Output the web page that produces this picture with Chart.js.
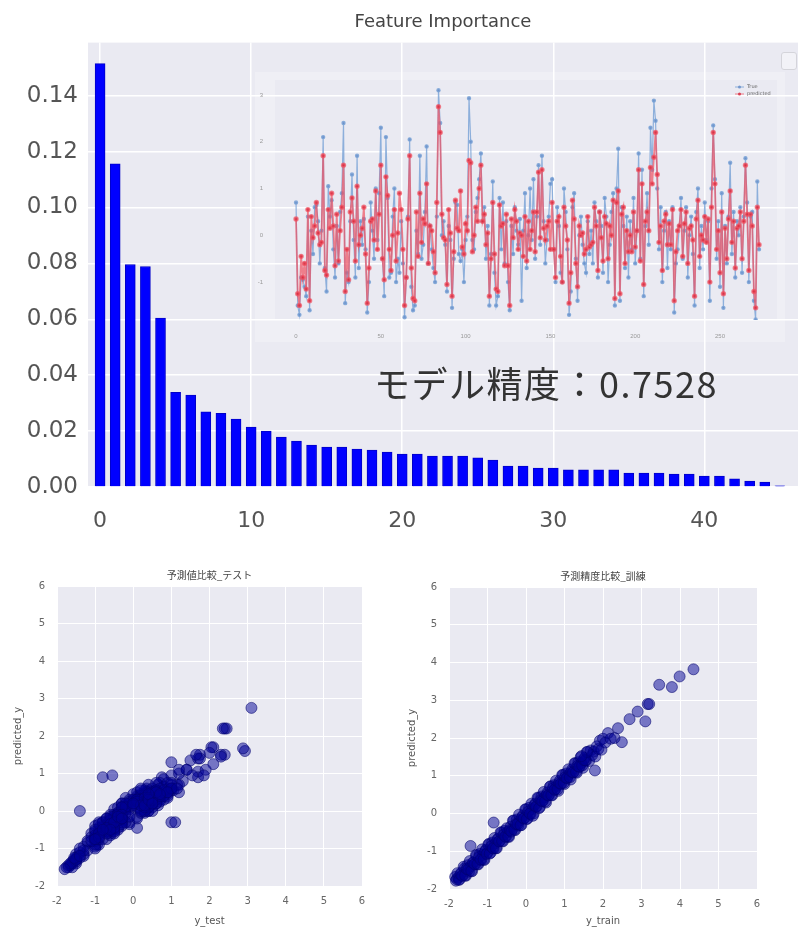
<!DOCTYPE html>
<html>
<head>
<meta charset="utf-8">
<script src="https://cdn.jsdelivr.net/npm/chart.js@4.4.1/dist/chart.umd.min.js"></script>
<style>
body { margin: 0; background: #fff; width: 798px; height: 927px; overflow: hidden; position: relative; }
canvas { position: absolute; }
#mainChart { left: 0; top: 0; }
#insetChart { left: 255px; top: 72px; }
#testChart { left: 0; top: 560px; }
#trainChart { left: 400px; top: 560px; }
#score { position: absolute; left: 374px; top: 356px; font-size: 36px; letter-spacing: 1.5px; font-family: "Noto Sans CJK JP"; color: #333; white-space: nowrap; }
#emptyLegend { position: absolute; left: 781px; top: 52px; width: 14px; height: 16px; border: 1px solid #d4d4da; border-radius: 3px; background: rgba(255,255,255,0.4); }
</style>
</head>
<body>
<canvas id="mainChart" width="798" height="540"></canvas>
<canvas id="insetChart" width="530" height="270"></canvas>
<div id="score">モデル精度：0.7528</div>
<div id="emptyLegend"></div>
<canvas id="testChart" width="400" height="367"></canvas>
<canvas id="trainChart" width="398" height="367"></canvas>
<script>
// feature importance, sorted
const importance = [0.1515, 0.1156, 0.0796, 0.0789, 0.0604, 0.0339, 0.0329, 0.0269, 0.0264, 0.0243,
    0.0214, 0.0200, 0.0179, 0.0164, 0.0150, 0.0143, 0.0143, 0.0136, 0.0132, 0.0125,
    0.0118, 0.0118, 0.0111, 0.0111, 0.0111, 0.0104, 0.0096, 0.0075, 0.0075, 0.0068,
    0.0068, 0.0061, 0.0061, 0.0061, 0.0061, 0.0050, 0.0050, 0.0050, 0.0046, 0.0046,
    0.0039, 0.0039, 0.0029, 0.0021, 0.0018, 0.0004];

// test set: true value and prediction (inset line chart + left scatter)
const testTrue = [0.7, -1.5, -1.7, -0.9, -0.95, -1.1, -1.3, 0.4, -1.6, 0.1,
    -0.4, 0.6, 0.65, 0.3, -0.6, 0.1, 2.1, -0.7, -1.2, 1.05,
    0.4, 0.75, -0.3, -0.9, 0.2, -0.6, 0.5, 0.9, 2.4, -1.45,
    -0.8, -1.0, 0.3, 1.3, -0.1, -0.9, 1.7, -0.7, 0.3, -0.2,
    0.35, -0.3, -1.65, -1.0, 0.7, 0.1, -0.5, 1.0, -0.1, 0.9,
    2.3, -0.5, -1.3, 2.1, 0.8, -0.9, -0.8, 0.4, 1.0, -1.0,
    -0.5, -0.8, 0.3, -0.6, -1.75, -0.9, 0.4, 2.05, -1.1, -1.6,
    -1.5, 0.1, -0.4, 1.7, -0.5, -0.2, 0.5, 1.9, -0.6, 0.2,
    -0.3, -0.7, -1.0, 0.4, 3.1, 2.4, 0.0, 0.3, -0.2, -1.2,
    0.2, -0.1, -1.55, -0.5, 0.7, 0.65, -0.4, -0.55, -0.3, -1.0,
    -0.1, 0.4, 2.93, 2.0, -0.1, -0.3, 0.5, 0.8, 1.2, 1.75,
    0.3, 0.6, -0.5, 0.2, -1.5, -0.4, 1.15, -0.8, -1.5, -1.3,
    0.8, -0.3, 0.7, -0.6, 0.3, -1.0, -1.6, 0.2, -0.4, 0.6,
    0.1, -0.2, 0.35, -1.4, 0.1, 0.9, -0.7, 0.0, 1.0, -0.1,
    1.2, -0.5, 0.4, 1.5, -0.2, 1.7, 0.3, -0.6, -0.1, 0.4,
    1.1, 1.2, -0.3, -1.0, 0.6, 0.2, -0.8, -1.0, 1.0, 0.5,
    -0.3, -1.7, -1.2, 0.6, 0.9, -0.5, -1.4, 0.0, 0.4, -0.2,
    -0.6, -0.8, 0.3, -0.4, 0.1, -0.6, 0.7, 0.3, -0.9, 0.5,
    0.2, -0.8, 0.8, 0.4, -1.0, -0.2, 0.5, 0.9, -1.5, 1.0,
    1.85, -1.4, 0.6, 0.2, -0.7, 0.4, -0.9, 0.3, -0.3, 0.8,
    -0.6, 0.1, 1.75, -0.5, 1.4, -1.3, 0.2, 0.9, -0.2, 2.3,
    1.4, 2.88, 2.45, 1.0, -0.3, 0.6, -1.0, 0.1, 0.5, -0.7,
    0.3, -0.3, 0.6, -1.65, -0.6, -0.3, 0.2, 0.8, -0.5, 0.1,
    0.6, -0.9, 0.0, 0.4, -0.4, -1.5, 0.5, 1.0, -0.7, 0.2,
    -0.3, 0.7, -0.1, 0.3, -1.4, 1.0, 2.35, 1.2, -0.5, 0.3,
    -1.1, 0.9, -1.55, 0.2, -0.6, 0.4, 1.55, -0.4, 0.5, -0.9,
    0.3, 0.0, 0.6, -0.8, 0.4, 1.65, 0.7, -1.0, 0.4, 0.5,
    -1.4, -1.8, 1.15, -0.3];
const testPred = [0.35, -1.25, -1.5, -0.45, -0.9, -0.6, -1.15, 0.55, -1.4, 0.4,
    -0.05, 0.2, 0.7, 0.05, -0.2, -0.15, 1.7, -0.75, -0.85, 0.55,
    0.15, 0.9, 0.2, -0.65, 0.45, -0.55, 0.1, 0.6, 1.5, -1.2,
    -0.3, -0.95, 0.5, 0.8, 0.3, -0.55, 1.05, -0.2, 0.0, 0.15,
    0.6, -0.4, -1.45, -0.7, 0.3, 0.35, -0.1, 0.95, -0.3, 0.45,
    1.5, -0.5, -0.95, 1.25, 0.85, -0.3, -0.75, 0.0, 0.55, -0.55,
    0.05, 0.9, 0.55, -0.3, -1.5, -0.9, 0.35, 1.7, -0.7, -1.35,
    -1.4, 0.5, -0.45, 0.9, -0.15, 0.35, 0.25, 1.1, -0.6, 0.2,
    0.1, -0.35, -0.8, 0.7, 2.75, 2.2, 0.45, -0.05, -0.1, -1.05,
    0.55, 0.05, -1.3, -0.35, 0.75, 0.15, 0.1, 0.95, -0.25, -0.4,
    0.25, 0.1, 1.6, 1.55, -0.35, 0.0, 0.6, 0.3, 1.0, 1.5,
    0.3, 0.45, -0.2, 0.05, -1.3, -0.5, 0.7, -0.4, -1.15, -1.2,
    0.65, 0.2, 0.25, -0.65, 0.45, -0.65, -1.5, 0.35, -0.05, 0.55,
    0.3, -0.3, 0.05, 0.0, -0.45, 0.4, -0.55, 0.3, -0.3, 0.1,
    0.5, -0.35, 0.5, 1.35, -0.05, 1.4, 0.15, -0.1, 0.2, 0.3,
    -0.3, 0.7, -0.3, -0.9, 0.3, 0.4, -0.45, -1.0, 0.6, 0.2,
    -0.1, -1.45, -0.8, 0.75, 0.35, -0.6, -1.1, 0.2, 0.0, 0.05,
    -0.4, -0.3, 0.4, -0.25, -0.2, -0.15, 0.6, 0.2, -0.75, 0.5,
    -0.05, -0.55, 0.4, 0.25, -0.5, 0.2, 0.0, 0.75, -1.35, 0.7,
    0.95, -1.25, 0.45, 0.6, -0.6, 0.1, -0.35, 0.0, -0.35, 0.5,
    -0.25, 0.1, 1.4, -0.55, 1.1, -1.05, 0.3, 0.5, 0.1, 1.45,
    1.1, 1.67, 2.2, 1.3, -0.15, 0.2, -0.75, 0.3, 0.45, -0.2,
    0.25, -0.2, 0.55, -1.4, -0.35, 0.1, 0.2, 0.55, -0.45, 0.25,
    0.5, -0.6, 0.15, 0.2, -0.1, -1.3, 0.35, 0.75, -0.45, 0.0,
    -0.1, 0.4, -0.15, 0.35, -1.0, 0.6, 2.2, 1.1, -0.3, 0.1,
    -0.8, 0.5, -1.25, 0.15, -0.5, 0.35, 0.95, -0.15, 0.3, -0.7,
    0.15, 0.2, 0.5, -0.5, 0.3, 1.5, 0.45, -0.75, 0.45, 0.2,
    -1.2, -1.55, 0.6, -0.2];

// training set: true value and prediction (right scatter)
const trainX = [-1.84, -1.80, -1.76, -1.72, -1.68, -1.64, -1.60, -1.56, -1.52, -1.48,
    -1.44, -1.40, -1.36, -1.32, -1.28, -1.24, -1.20, -1.16, -1.12, -1.08,
    -1.04, -1.00, -0.96, -0.92, -0.88, -0.84, -0.80, -0.76, -0.72, -0.68,
    -0.64, -0.60, -0.56, -0.52, -0.48, -0.44, -0.40, -0.36, -0.32, -0.28,
    -0.24, -0.20, -0.16, -0.12, -0.08, -0.04, 0.00, 0.04, 0.08, 0.12,
    0.16, 0.20, 0.24, 0.28, 0.32, 0.36, 0.40, 0.44, 0.48, 0.52,
    0.56, 0.60, 0.64, 0.68, 0.72, 0.76, 0.80, 0.84, 0.88, 0.92,
    0.96, 1.00, 1.04, 1.08, 1.12, 1.16, 1.20, 1.24, 1.28, 1.32,
    1.36, 1.40, 1.44, 1.48, 1.52, 1.56, 1.60, 1.64, 1.68, 1.72,
    1.76, 1.80, 1.84, 1.88, 1.92, 1.96, 2.00,
    -1.82, -1.78, -1.74, -1.70, -1.66, -1.62, -1.58, -1.54, -1.50, -1.46,
    -1.42, -1.38, -1.34, -1.30, -1.26, -1.22, -1.18, -1.14, -1.10, -1.06,
    -1.02, -0.98, -0.94, -0.90, -0.86, -0.82, -0.78, -0.74, -0.70, -0.66,
    -0.62, -0.58, -0.54, -0.50, -0.46, -0.42, -0.38, -0.34, -0.30, -0.26,
    -0.22, -0.18, -0.14, -0.10, -0.06, -0.02, 0.02, 0.06, 0.10, 0.14,
    0.18, 0.22, 0.26, 0.30, 0.34, 0.38, 0.42, 0.46, 0.50, 0.54,
    0.58, 0.62, 0.66, 0.70, 0.74, 0.78, 0.82, 0.86, 0.90, 0.94,
    0.98, 1.02, 1.06, 1.10, 1.14, 1.18, 1.22, 1.26, 1.30, 1.34,
    1.38, 1.42, 1.46, 1.50, 1.54, 1.58,
    -1.44, -0.84, 1.44, 1.79, 2.06, 2.13, 2.20, 2.30, 2.39, 2.49,
    2.69, 2.90, 3.10, 3.16, 3.20, 3.46, 3.79, 3.99, 4.35];
const trainY = [-1.68, -1.74, -1.70, -1.74, -1.57, -1.64, -1.46, -1.65, -1.37, -1.54,
    -1.40, -1.53, -1.30, -1.35, -1.11, -1.35, -1.07, -1.23, -1.09, -1.23,
    -0.96, -1.03, -0.80, -1.04, -0.77, -0.93, -0.79, -0.92, -0.66, -0.73,
    -0.50, -0.74, -0.46, -0.62, -0.49, -0.62, -0.35, -0.42, -0.19, -0.44,
    -0.16, -0.32, -0.18, -0.31, -0.05, -0.12, 0.11, -0.13, 0.15, -0.02,
    0.12, 0.00, 0.26, 0.19, 0.41, 0.17, 0.45, 0.34, 0.43, 0.29,
    0.56, 0.49, 0.72, 0.48, 0.75, 0.64, 0.73, 0.60, 0.87, 0.79,
    1.02, 0.78, 1.06, 0.95, 1.04, 0.90, 1.17, 1.10, 1.33, 1.08,
    1.36, 1.25, 1.34, 1.21, 1.47, 1.40, 1.63, 1.39, 1.67, 1.55,
    1.64, 1.51, 1.78, 1.71, 1.93, 1.69, 1.98,
    -1.78, -1.58, -1.76, -1.61, -1.65, -1.41, -1.64, -1.47, -1.48, -1.26,
    -1.52, -1.30, -1.34, -1.10, -1.34, -1.15, -1.22, -0.95, -1.22, -1.00,
    -1.07, -0.83, -1.06, -0.87, -0.92, -0.65, -0.92, -0.69, -0.74, -0.50,
    -0.73, -0.56, -0.61, -0.39, -0.61, -0.44, -0.48, -0.19, -0.43, -0.28,
    -0.28, -0.03, -0.31, -0.10, -0.13, 0.11, -0.15, 0.05, 0.00, 0.26,
    -0.06, 0.22, 0.18, 0.42, 0.14, 0.35, 0.33, 0.57, 0.32, 0.50,
    0.48, 0.71, 0.49, 0.67, 0.63, 0.87, 0.64, 0.81, 0.79, 1.02,
    0.81, 0.96, 0.94, 1.17, 0.96, 1.11, 1.09, 1.33, 1.10, 1.26,
    1.24, 1.49, 1.27, 1.42, 1.41, 1.63,
    -0.86, -0.24, 1.52, 1.14, 1.88, 2.13, 1.98, 2.00, 2.26, 1.89,
    2.50, 2.70, 2.44, 2.90, 2.90, 3.41, 3.35, 3.63, 3.82];

const plotBg = {
    id: 'plotBg',
    beforeDraw(chart, args, opts) {
        const { ctx, chartArea: a } = chart;
        ctx.save();
        if (opts.frame) {
            ctx.fillStyle = opts.frame;
            ctx.fillRect(0, 0, chart.width, chart.height);
            ctx.clearRect(a.left, a.top, a.right - a.left, a.bottom - a.top);
        }
        if (opts.color) {
            ctx.fillStyle = opts.color;
            ctx.fillRect(a.left, a.top, a.right - a.left, a.bottom - a.top);
        }
        ctx.restore();
    }
};

// small legend in the top right corner of the plot (matplotlib style)
const cornerLegend = {
    id: 'cornerLegend',
    afterDraw(chart, args, opts) {
        if (!opts.show) return;
        const { ctx, chartArea: a } = chart;
        ctx.save();
        ctx.font = '5px "DejaVu Sans"';
        ctx.textBaseline = 'middle';
        chart.data.datasets.forEach((ds, i) => {
            const x = a.right - 42, y = a.top + 7 + i * 7;
            ctx.strokeStyle = ds.borderColor;
            ctx.lineWidth = 1;
            ctx.beginPath(); ctx.moveTo(x, y); ctx.lineTo(x + 9, y); ctx.stroke();
            ctx.fillStyle = ds.backgroundColor;
            ctx.beginPath(); ctx.arc(x + 4.5, y, 1.5, 0, Math.PI * 2); ctx.fill();
            ctx.fillStyle = '#666';
            ctx.fillText(ds.label, x + 12, y);
        });
        ctx.restore();
    }
};
Chart.register(plotBg, cornerLegend);
Chart.defaults.animation = false;
Chart.defaults.responsive = false;
Chart.defaults.devicePixelRatio = 1;

// Main bar chart
new Chart(document.getElementById('mainChart'), {
    type: 'bar',
    data: {
        datasets: [{
            data: importance.map((v, i) => ({ x: i, y: v })),
            backgroundColor: '#0000ff',
            borderColor: '#0000c8',
            borderWidth: 1,
            barThickness: 10
        }]
    },
    options: {
        layout: { padding: 0 },
        plugins: {
            legend: { display: false },
            tooltip: { enabled: false },
            title: {
                display: true, text: 'Feature Importance', fullSize: false,
                color: '#444', font: { family: 'DejaVu Sans', size: 18, weight: 'normal' },
                padding: { top: 12, bottom: 9 }
            },
            plotBg: { color: '#eaeaf2' }
        },
        scales: {
            x: {
                type: 'linear', min: -0.8, max: 46.2, offset: false,
                ticks: { stepSize: 10, includeBounds: false, color: '#555', font: { family: 'DejaVu Sans', size: 22 }, padding: 21 },
                grid: { color: '#ffffff', lineWidth: 1.5, drawTicks: false, offset: false },
                border: { display: false },
                afterFit: s => { s.height = 53; }
            },
            y: {
                min: 0, max: 0.159,
                ticks: { stepSize: 0.02, includeBounds: false, color: '#555', font: { family: 'DejaVu Sans', size: 23 }, padding: 10,
                    callback: v => v.toFixed(2) },
                grid: { color: '#ffffff', lineWidth: 1.5, drawTicks: false },
                border: { display: false },
                afterFit: s => { s.width = 88; }
            }
        }
    }
});

// Inset: true vs predicted on the test set
new Chart(document.getElementById('insetChart'), {
    type: 'line',
    data: {
        datasets: [{
            label: 'True',
            data: testTrue.map((v, i) => ({ x: i, y: v })),
            borderColor: 'rgba(125,165,215,0.85)', backgroundColor: 'rgba(100,140,200,0.85)',
            borderWidth: 1.2, pointRadius: 1.6, order: 2
        }, {
            label: 'predicted',
            data: testPred.map((v, i) => ({ x: i, y: v })),
            borderColor: 'rgba(240,80,95,0.7)', backgroundColor: 'rgba(215,40,60,0.85)',
            borderWidth: 1.8, pointRadius: 1.8, order: 1
        }]
    },
    options: {
        layout: { padding: { top: 8, right: 8 } },
        plugins: {
            legend: { display: false },
            tooltip: { enabled: false },
            plotBg: { frame: 'rgba(255,255,255,0.25)' },
            cornerLegend: { show: true }
        },
        scales: {
            x: {
                type: 'linear', min: -12.4, max: 283.6,
                ticks: { stepSize: 50, includeBounds: false, color: '#999', font: { size: 6 }, padding: 5 },
                grid: { display: false }, border: { display: false },
                afterFit: s => { s.height = 22; }
            },
            y: {
                min: -1.81, max: 3.32,
                ticks: { stepSize: 1, includeBounds: false, color: '#999', font: { size: 6 }, padding: 4 },
                grid: { display: false }, border: { display: false },
                afterFit: s => { s.width = 20; }
            }
        }
    }
});

function scatterChart(id, title, xLabel, xs, ys, dims) {
    const tickFont = { family: 'DejaVu Sans', size: 10 };
    return new Chart(document.getElementById(id), {
        type: 'scatter',
        data: {
            datasets: [{
                data: xs.map((x, i) => ({ x: x, y: ys[i] })),
                backgroundColor: 'rgba(0,0,150,0.5)',
                borderColor: 'rgba(0,0,110,0.55)',
                borderWidth: 1,
                pointRadius: 5.5
            }]
        },
        options: {
            layout: { padding: { right: dims.right } },
            plugins: {
                legend: { display: false },
                tooltip: { enabled: false },
                title: {
                    display: true, text: title, fullSize: false, color: '#444',
                    font: { family: 'Noto Sans CJK JP', size: 10, weight: 'normal' },
                    padding: { top: dims.titleTop, bottom: 5 }
                },
                plotBg: { color: '#eaeaf2' }
            },
            scales: {
                x: {
                    type: 'linear', min: -2, max: 6,
                    ticks: { stepSize: 1, color: '#666', font: tickFont, padding: 9 },
                    grid: { color: '#ffffff', lineWidth: 1, drawTicks: false },
                    border: { display: false },
                    title: { display: true, text: xLabel, color: '#555', font: tickFont, padding: 0 },
                    afterFit: s => { s.height = dims.bottom; }
                },
                y: {
                    min: -2, max: 6,
                    ticks: { stepSize: 1, color: '#666', font: tickFont, padding: 12 },
                    grid: { color: '#ffffff', lineWidth: 1, drawTicks: false },
                    border: { display: false },
                    title: { display: true, text: 'predicted_y', color: '#555', font: tickFont, padding: { top: dims.ytPad, bottom: 4 } },
                    afterFit: s => { s.width = dims.left; }
                }
            }
        }
    });
}

scatterChart('testChart', '予測値比較_テスト', 'y_test', testTrue, testPred,
    { left: 57, right: 38, bottom: 41, titleTop: 9, ytPad: 12 });
scatterChart('trainChart', '予測精度比較_訓練', 'y_train', trainX, trainY,
    { left: 49, right: 41, bottom: 38, titleTop: 10, ytPad: 6 });
</script>
</body>
</html>
